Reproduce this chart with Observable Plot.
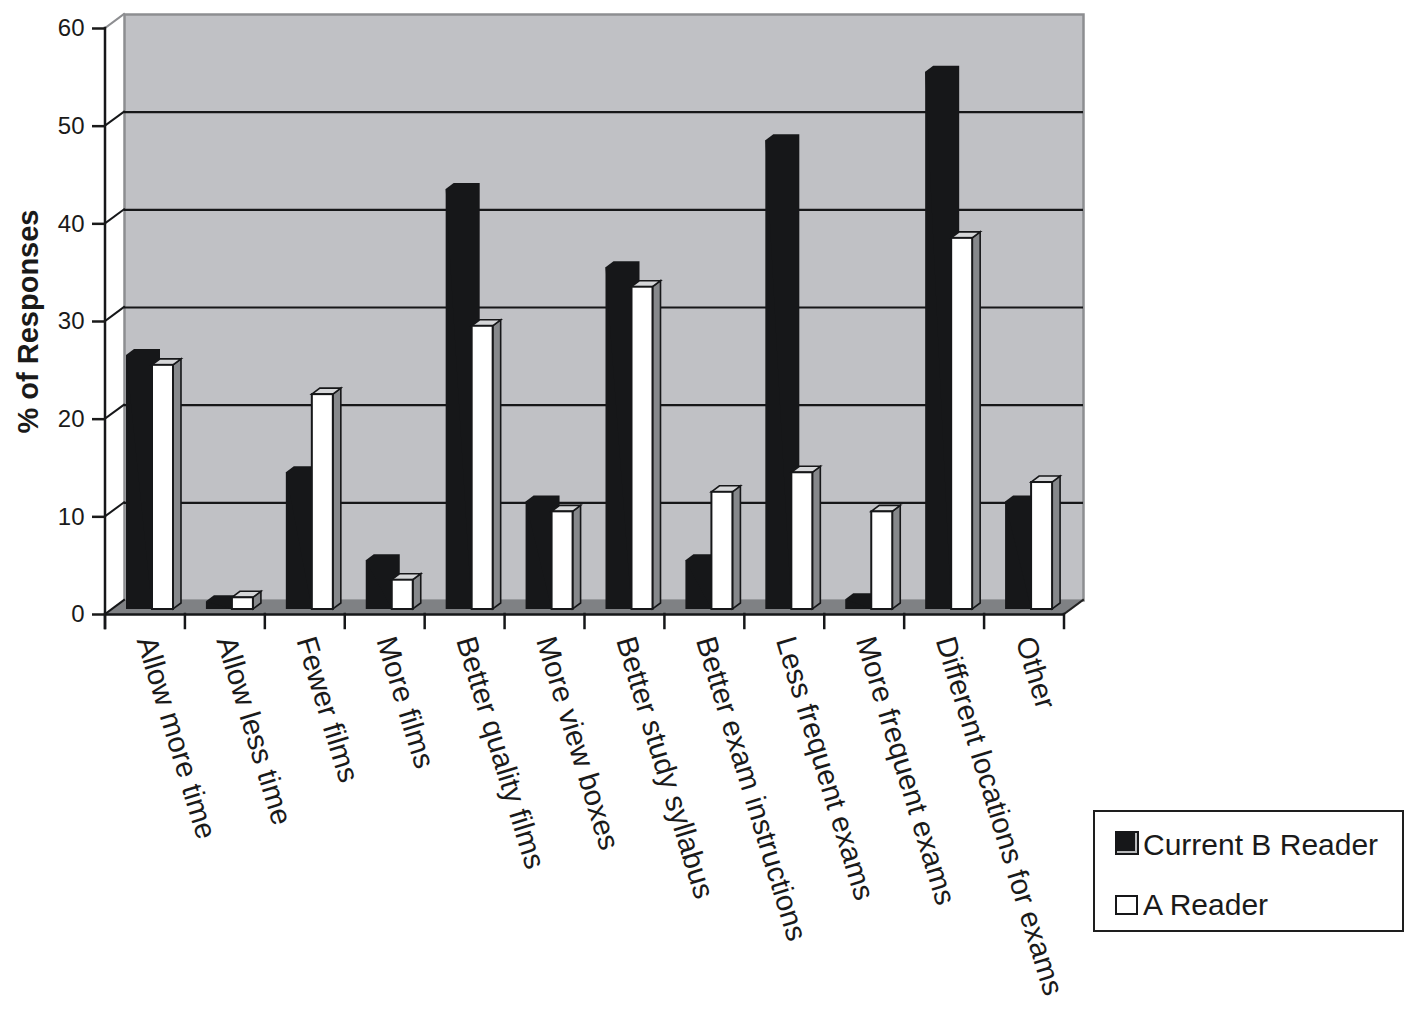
<!DOCTYPE html>
<html>
<head>
<meta charset="utf-8">
<script src="https://cdn.jsdelivr.net/npm/d3@7"></script>
<script src="https://cdn.jsdelivr.net/npm/@observablehq/plot@0.6"></script>
<style>
  html, body { margin: 0; padding: 0; background: #fff; }
  body { font-family: "Liberation Sans", Arial, Helvetica, sans-serif; color: #1a1a1a; }
  #wrap { position: relative; width: 1406px; height: 1009px; overflow: hidden; }
  #legend { position: absolute; left: 1093px; top: 810px; width: 307px; height: 118px; border: 2px solid #1e1e1e; background: #fff; }
  .sw { position: absolute; box-sizing: border-box; }
  .lt { position: absolute; font-size: 30px; line-height: 1; white-space: nowrap; color: #1a1a1a; }
  #chart g[aria-label="y-axis tick label"] { font-size: 24px; }
  #chart g[aria-label="y-axis tick label"] text { font-size: 24px; }
</style>
</head>
<body>
<div id="wrap">
  <div id="chart"></div>
  <div id="legend"></div>
</div>
<script>
// ---------- data ----------
const categories = [
  "Allow more time", "Allow less time", "Fewer films", "More films",
  "Better quality films", "More view boxes", "Better study syllabus",
  "Better exam instructions", "Less frequent exams", "More frequent exams",
  "Different locations for exams", "Other"
];
const currentB = [26, 0.8, 14, 5, 43, 11, 35, 5, 48, 1, 55, 11];
const aReader  = [25, 1.2, 22, 3, 29, 10, 33, 12, 14, 10, 38, 13];
const yTicks = [0, 10, 20, 30, 40, 50, 60];
const seriesNames = ["Current B Reader", "A Reader"];
const yLabel = "% of Responses";

const rows = categories.map((c, i) => ({category: c, b: currentB[i], a: aReader[i]}));

// ---------- layout / style ----------
const W = 1406, H = 1009;
const ML = 105, MR = 342, MT = 28, MB = 395;
const WALL = {dx: 19, dy: -14};      // depth offset of back wall
const BASE_DY = -5;                   // bars stand in the middle of the floor
const DEPTH = {dx: 8, dy: -6};        // depth of each 3D column
const BW = (W - ML - MR) / categories.length;
const BLK = [21, 47];                 // front face offsets within band
const WHT = [47, 68];
const INK = "#161719";

function poly(g, pts, fill, stroke, sw) {
  g.append("polygon")
    .attr("points", pts.map(p => p.join(",")).join(" "))
    .attr("fill", fill)
    .attr("stroke", stroke || "none")
    .attr("stroke-width", sw || 0)
    .attr("stroke-linejoin", "miter");
}
function line(g, x1, y1, x2, y2, stroke, sw) {
  g.append("line").attr("x1", x1).attr("y1", y1).attr("x2", x2).attr("y2", y2)
    .attr("stroke", stroke).attr("stroke-width", sw).attr("stroke-linecap", "square");
}

const floorMark = (index, {x, y}) => {
  const g = d3.create("svg:g");
  const x0 = x(categories[0]), x1 = x(categories[categories.length - 1]) + x.bandwidth(), y0 = y(0);
  poly(g, [[x0, y0], [x1, y0], [x1 + WALL.dx, y0 + WALL.dy], [x0 + WALL.dx, y0 + WALL.dy]], "#7f8184");
  line(g, x1, y0, x1 + WALL.dx, y0 + WALL.dy, "#222", 2);
  return g.node();
};

const sideWallMark = (index, {x, y}) => {
  const g = d3.create("svg:g");
  const x0 = x(categories[0]);
  for (const t of yTicks) {
    line(g, x0, y(t), x0 + WALL.dx, y(t) + WALL.dy, t === yTicks[yTicks.length - 1] ? "#8d8e91" : INK, 2);
  }
  line(g, x0, y(yTicks[yTicks.length - 1]), x0, y(0) + 14, INK, 2.5);
  return g.node();
};

const xTickMark = (index, {x, y}) => {
  const g = d3.create("svg:g");
  const edges = categories.map(c => x(c)).concat([x(categories[categories.length - 1]) + x.bandwidth()]);
  for (const e of edges) line(g, e, y(0), e, y(0) + 14, INK, 2.5);
  return g.node();
};

const blackDepthMark = (index, {x, y}) => {
  const g = d3.create("svg:g");
  rows.forEach(r => {
    const bx = x(r.category), top = y(r.b) + BASE_DY, base = y(0) + BASE_DY;
    const xl = bx + BLK[0], xr = bx + BLK[1];
    poly(g, [[xl, top], [xl + DEPTH.dx, top + DEPTH.dy], [xr + DEPTH.dx, top + DEPTH.dy],
             [xr + DEPTH.dx, base + DEPTH.dy], [xr, base]], INK);
  });
  return g.node();
};

const whiteDepthMark = (index, {x, y}) => {
  const g = d3.create("svg:g");
  rows.forEach(r => {
    const bx = x(r.category), top = y(r.a) + BASE_DY, base = y(0) + BASE_DY;
    const xl = bx + WHT[0], xr = bx + WHT[1];
    poly(g, [[xr, top], [xr + DEPTH.dx, top + DEPTH.dy], [xr + DEPTH.dx, base + DEPTH.dy], [xr, base]], "#86888b", INK, 1.6);
    poly(g, [[xl, top], [xl + DEPTH.dx, top + DEPTH.dy], [xr + DEPTH.dx, top + DEPTH.dy], [xr, top]], "#d6d7d9", INK, 1.6);
  });
  return g.node();
};

const chart = Plot.plot({
  width: W, height: H,
  marginLeft: ML, marginRight: MR, marginTop: MT, marginBottom: MB,
  style: {fontFamily: '"Liberation Sans", Arial, Helvetica, sans-serif', color: "#1a1a1a", background: "#fff", overflow: "visible"},
  x: {domain: categories, padding: 0, round: false},
  y: {domain: [0, 60]},
  marks: [
    Plot.frame({fill: "#c0c1c5", stroke: "#8d8e91", strokeWidth: 2.5, dx: WALL.dx, dy: WALL.dy}),
    floorMark,
    Plot.ruleY(yTicks.filter(t => t > 0 && t < 60), {dx: WALL.dx, dy: WALL.dy, stroke: INK, strokeWidth: 2.2}),
    sideWallMark,
    // Current B Reader columns (back of each cluster)
    Plot.barY(rows, {x: "category", y: "b", fill: INK, insetLeft: BLK[0], insetRight: BW - BLK[1], dy: BASE_DY}),
    blackDepthMark,
    // A Reader columns
    whiteDepthMark,
    Plot.barY(rows, {x: "category", y: "a", fill: "#fff", stroke: INK, strokeWidth: 2, insetLeft: WHT[0], insetRight: BW - WHT[1], dy: BASE_DY}),
    Plot.ruleY([0], {stroke: INK, strokeWidth: 2.5}),
    xTickMark,
    Plot.axisY({ticks: yTicks, tickSize: 13, tickPadding: 8, fontSize: 24, label: null, strokeWidth: 2.5}),
    Plot.axisX({tickRotate: 73, tickSize: 0, tickPadding: 23, fontSize: 29.5, label: null}),
    Plot.text([yLabel], {frameAnchor: "left", dx: -77, rotate: -90, fontSize: 29, fontWeight: "bold", textAnchor: "middle", lineAnchor: "middle", fill: "#1a1a1a"})
  ]
});
document.getElementById("chart").append(chart);

// ---------- legend ----------
const legend = document.getElementById("legend");
const swatchStyles = [
  {left: 20, top: 19, width: 24, height: 24, background: INK, border: `2px solid ${INK}`, boxShadow: "inset -2px -2px 0 #b9babc"},
  {left: 20, top: 83, width: 23, height: 20, background: "#fff", border: `2px solid ${INK}`}
];
const textTops = [18, 78];
seriesNames.forEach((name, i) => {
  const sw = document.createElement("div");
  sw.className = "sw";
  const s = swatchStyles[i];
  Object.assign(sw.style, {left: s.left + "px", top: s.top + "px", width: s.width + "px", height: s.height + "px",
    background: s.background, border: s.border, boxShadow: s.boxShadow || "none"});
  legend.append(sw);
  const t = document.createElement("div");
  t.className = "lt";
  t.textContent = name;
  t.style.left = "48px";
  t.style.top = textTops[i] + "px";
  legend.append(t);
});
</script>
</body>
</html>
